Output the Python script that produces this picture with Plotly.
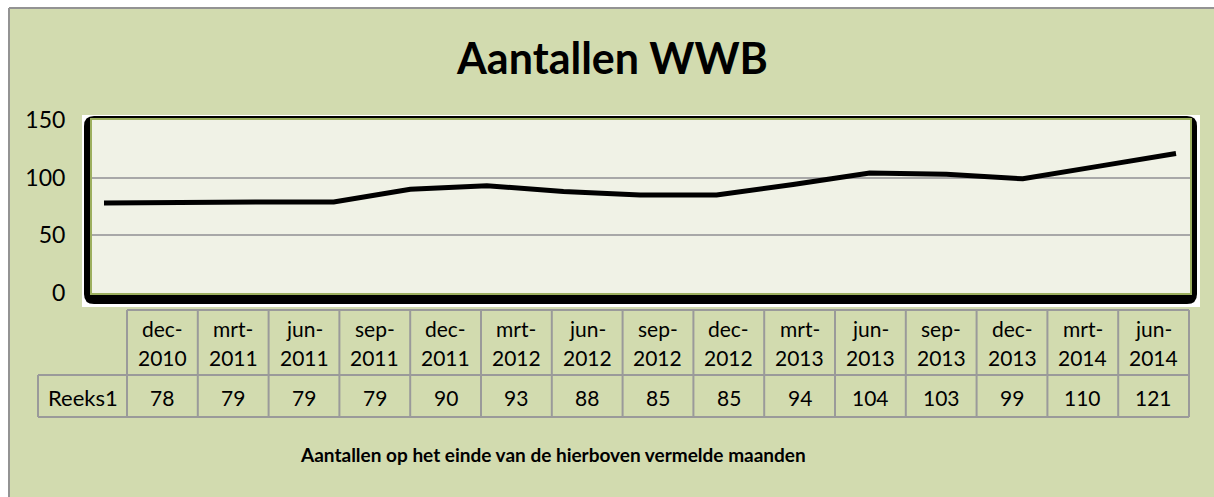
import plotly.graph_objects as go

# ---------------- data ----------------
categories = ["dec-2010", "mrt-2011", "jun-2011", "sep-2011", "dec-2011",
              "mrt-2012", "jun-2012", "sep-2012", "dec-2012", "mrt-2013",
              "jun-2013", "sep-2013", "dec-2013", "mrt-2014", "jun-2014"]
values = [78, 79, 79, 79, 90, 93, 88, 85, 85, 94, 104, 103, 99, 110, 121]
series_name = "Reeks1"
y_ticks = [0, 50, 100, 150]
title_text = "Aantallen WWB"
footer_text = "Aantallen op het einde van de hierboven vermelde maanden"

# ---------------- geometry helpers (pixels -> paper) ----------------
W, H = 1214, 497
def px(x):
    return x / W
def py(y):
    return 1 - y / H

FONT = "Lato, 'Open Sans', sans-serif"
BG = "#D2DBAF"
PLOT_BG = "#F0F2E6"
GRID = "#A8A8A8"
BORDER_GRAY = "#939393"
OLIVE = "#9CAF5E"
TABLE_LINE = "#9A9A9A"

plot_l, plot_r, plot_t, plot_b = 92, 1190, 120, 293
first_pt, last_pt = 104, 1176
n = len(categories)
unit = (last_pt - first_pt) / (n - 1)
x_range = [-(first_pt - plot_l) / unit, (n - 1) + (plot_r - last_pt) / unit]

fig = go.Figure()
fig.add_trace(go.Scatter(
    x=list(range(n)), y=values, mode="lines", name=series_name,
    line=dict(color="black", width=5),
    text=categories, hovertemplate="%{text}: %{y}<extra></extra>",
))

shapes = []
# chart area background
shapes.append(dict(type="rect", xref="paper", yref="paper", layer="below",
                   x0=px(9), x1=1, y0=0, y1=py(8),
                   fillcolor=BG, line=dict(width=0)))
# gray border of chart area (top and left only visible)
shapes.append(dict(type="line", xref="paper", yref="paper", layer="below",
                   x0=px(9), x1=1, y0=py(8), y1=py(8),
                   line=dict(color=BORDER_GRAY, width=2)))
shapes.append(dict(type="line", xref="paper", yref="paper", layer="below",
                   x0=px(9), x1=px(9), y0=0, y1=py(8),
                   line=dict(color=BORDER_GRAY, width=2)))
# white backing of plot frame
shapes.append(dict(type="rect", xref="paper", yref="paper", layer="below",
                   x0=px(82), x1=px(1200), y0=py(115), y1=py(307),
                   fillcolor="white", line=dict(width=0)))
# black rounded frame
x0, x1, y0, y1, r = 84, 1197, 116, 304, 10
pts = [("M", x0 + r, y0), ("L", x1 - r, y0), ("Q", x1, y0, x1, y0 + r),
       ("L", x1, y1 - r), ("Q", x1, y1, x1 - r, y1), ("L", x0 + r, y1),
       ("Q", x0, y1, x0, y1 - r), ("L", x0, y0 + r), ("Q", x0, y0, x0 + r, y0)]
path = ""
for p in pts:
    cmd = p[0]
    coords = p[1:]
    parts = []
    for i in range(0, len(coords), 2):
        parts.append(f"{px(coords[i]):.6f},{py(coords[i+1]):.6f}")
    path += cmd + " " + " ".join(parts) + " "
path += "Z"
shapes.append(dict(type="path", xref="paper", yref="paper", layer="below",
                   path=path, fillcolor="black", line=dict(width=0)))
# inner cream plot area
shapes.append(dict(type="rect", xref="paper", yref="paper", layer="below",
                   x0=px(plot_l), x1=px(plot_r), y0=py(plot_b), y1=py(plot_t),
                   fillcolor=PLOT_BG, line=dict(width=0)))

# ---------------- data table ----------------
tab_l_label, tab_l, tab_r = 38, 127, 1189
tab_top, tab_mid, tab_bot = 310, 375, 417
col_w = (tab_r - tab_l) / n
lw = 2
def hline(xa, xb, y):
    return dict(type="line", xref="paper", yref="paper", x0=px(xa), x1=px(xb),
                y0=py(y), y1=py(y), line=dict(color=TABLE_LINE, width=lw))
def vline(x, ya, yb):
    return dict(type="line", xref="paper", yref="paper", x0=px(x), x1=px(x),
                y0=py(ya), y1=py(yb), line=dict(color=TABLE_LINE, width=lw))
shapes.append(hline(tab_l, tab_r, tab_top))
shapes.append(hline(tab_l_label, tab_r, tab_mid))
shapes.append(hline(tab_l_label, tab_r, tab_bot))
shapes.append(vline(tab_l_label, tab_mid, tab_bot))
for i in range(n + 1):
    shapes.append(vline(tab_l + i * col_w, tab_top, tab_bot))

annotations = []
tfont = dict(family=FONT, size=21, color="black")
for i, (cat, val) in enumerate(zip(categories, values)):
    cx = tab_l + (i + 0.5) * col_w
    mon, yr = cat.split("-")
    annotations.append(dict(xref="paper", yref="paper", x=px(cx), y=py(328),
                            text=mon + "-", showarrow=False, font=tfont,
                            xanchor="center", yanchor="middle"))
    annotations.append(dict(xref="paper", yref="paper", x=px(cx), y=py(357),
                            text=yr, showarrow=False, font=tfont,
                            xanchor="center", yanchor="middle"))
    annotations.append(dict(xref="paper", yref="paper", x=px(cx), y=py(397),
                            text=str(val), showarrow=False, font=tfont,
                            xanchor="center", yanchor="middle"))
annotations.append(dict(xref="paper", yref="paper", x=px((tab_l_label + tab_l) / 2),
                        y=py(397), text=series_name, showarrow=False,
                        font=dict(family=FONT, size=22, color="black"),
                        xanchor="center", yanchor="middle"))
# title
annotations.append(dict(xref="paper", yref="paper", x=px(612), y=py(58),
                        text="<b>" + title_text + "</b>", showarrow=False,
                        font=dict(family=FONT, size=43, color="black"),
                        xanchor="center", yanchor="middle"))
# footer
annotations.append(dict(xref="paper", yref="paper", x=px(553), y=py(454),
                        text="<b>" + footer_text + "</b>", showarrow=False,
                        font=dict(family=FONT, size=19, color="black"),
                        xanchor="center", yanchor="middle"))

fig.update_layout(
    width=W, height=H, margin=dict(l=0, r=0, t=0, b=0, autoexpand=False),
    paper_bgcolor="white", plot_bgcolor=PLOT_BG,
    showlegend=False, shapes=shapes, annotations=annotations,
    font=dict(family=FONT, color="black"),
    xaxis=dict(domain=[px(plot_l), px(plot_r)], range=x_range,
               showgrid=False, zeroline=False, showticklabels=False,
               showline=True, mirror=True, linecolor=OLIVE, linewidth=2,
               automargin=False, fixedrange=True),
    yaxis=dict(domain=[py(plot_b), py(plot_t)], range=[0, 150],
               tickvals=y_ticks, showgrid=True, gridcolor=GRID, gridwidth=2,
               zeroline=False, showline=True, mirror=True, linecolor=OLIVE,
               linewidth=2, ticklabelstandoff=20, automargin=False,
               tickfont=dict(family=FONT, size=23, color="black"),
               fixedrange=True),
)

fig.write_html(
    "out.html", config={"displayModeBar": False},
    post_script=("document.body.style.margin='0';"
                 "document.body.style.overflow='hidden';"
                 "document.documentElement.style.overflow='hidden';"),
)
